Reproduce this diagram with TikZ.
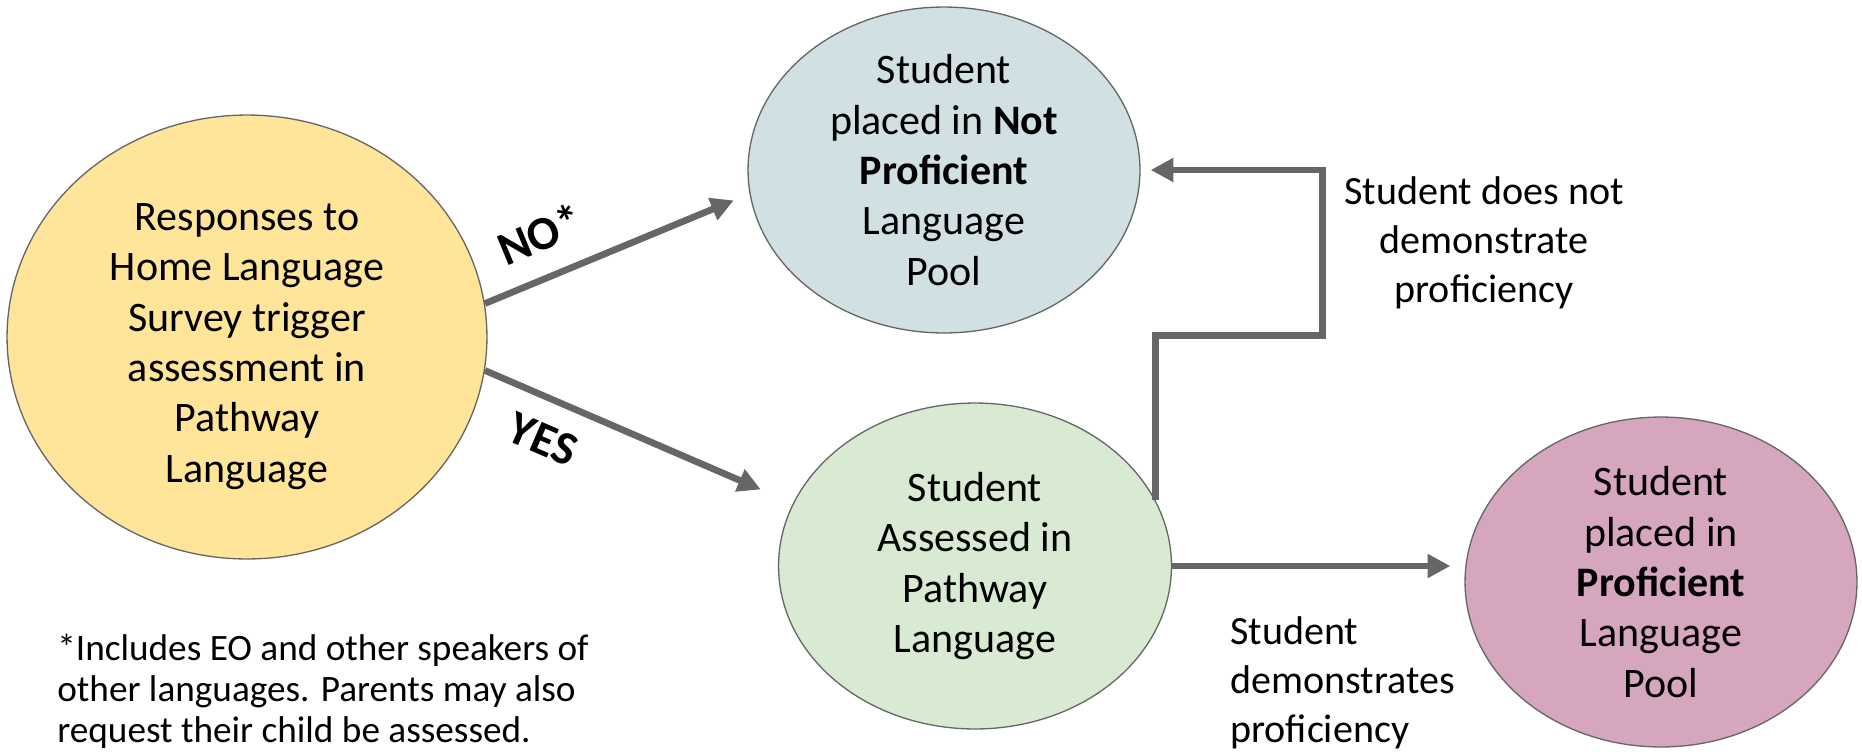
\documentclass[tikz,border=0pt]{standalone}
\usepackage{fontspec}
\setmainfont{Carlito}
\usetikzlibrary{shapes.geometric,arrows.meta,positioning}

\definecolor{surveyfill}{HTML}{FFE599}
\definecolor{notproffill}{HTML}{D0E0E3}
\definecolor{assessfill}{HTML}{D9EAD3}
\definecolor{proffill}{HTML}{D5A6BD}
\definecolor{flowgray}{HTML}{666666}

\tikzset{
  >={Triangle[length=13pt, width=13pt]},
  bubble/.style={draw=flowgray, line width=0.75pt, ellipse, align=center, inner sep=-0.6cm, font=\fontsize{23.9}{28.7}\selectfont},
  flow/.style={draw=flowgray, line width=3.8pt, ->},
  note/.style={inner sep=0pt, font=\fontsize{22.8}{28}\selectfont},
  tag/.style={inner sep=0pt, font=\fontsize{27}{32}\selectfont\bfseries}
}

\begin{document}
\begin{tikzpicture}[x=0.02cm, y=-0.02cm]
\useasboundingbox (0,0) rectangle (1862,751);
\node[bubble, fill=surveyfill, minimum width=9.6cm, minimum height=8.88cm] (survey) at (247,337) {\rule{0pt}{26pt}Responses to\\Home Language\\Survey trigger\\assessment in\\Pathway\\Language};
\node[bubble, fill=notproffill, minimum width=7.84cm, minimum height=6.52cm] (notprof) at (944,170) {Student\\placed in \textbf{Not}\\\textbf{Proficient}\\Language\\Pool};
\node[bubble, fill=assessfill, minimum width=7.86cm, minimum height=6.52cm] (assessed) at (975,566) {Student\\Assessed in\\Pathway\\Language};
\node[bubble, fill=proffill, minimum width=7.84cm, minimum height=6.6cm] (prof) at (1661,582) {Student\\placed in\\\textbf{Proficient}\\Language\\Pool};
\draw[flow, shorten >=0.34cm] (survey.8) -- (notprof.187) node[tag, pos=.27, sloped, above=13pt] (nolabel) {NO*};
\draw[flow, shorten >=0.7cm] (survey.-8) -- (assessed.161) node[tag, pos=.24, sloped, below=12pt] (yeslabel) {YES};
\draw[flow, shorten >=0.2cm] (assessed.20) -- ++(0,-165) -- ++(167,0) |- (notprof.east);
\draw[flow, shorten >=0.28cm] (assessed.east) -- (assessed.east -| prof.west);
\node[note, align=center] (fails) at (1484,243) {Student does not\\demonstrate\\proficiency};
\node[note, align=left, anchor=west] (passes) at (1230,683) {Student\\demonstrates\\proficiency};
\node[inner sep=0pt, align=left, anchor=west, font=\fontsize{21.2}{23.3}\selectfont] (footnote) at (57,691) {*Includes EO and other speakers of\\other languages. Parents may also\\request their child be assessed.};
\end{tikzpicture}
\end{document}
